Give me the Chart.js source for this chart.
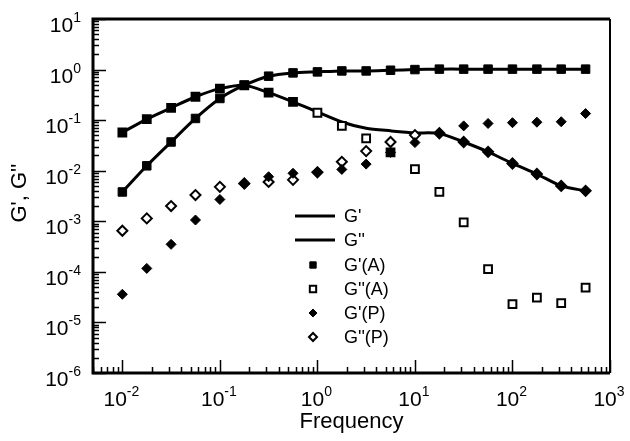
<!DOCTYPE html>
<html>
<head>
<meta charset="utf-8">
<script src="https://cdn.jsdelivr.net/npm/chart.js@4.4.0/dist/chart.umd.min.js"></script>
<style>
  html, body { margin: 0; padding: 0; background: #fff; }
  #wrap { width: 630px; height: 441px; }
</style>
</head>
<body>
<div id="wrap"><canvas id="modChart"></canvas></div>
<script>
// frequency points (1/4 decade steps)
const freq = [0.01, 0.0178, 0.0316, 0.0562, 0.1, 0.178, 0.316, 0.562, 1, 1.78,
  3.16, 5.62, 10, 17.8, 31.6, 56.2, 100, 178, 316, 562];

// solid curves
const gPrimeLine = [0.0038, 0.0125, 0.037, 0.108, 0.268, 0.49, 0.74, 0.86, 0.9, 0.94,
  0.94, 0.97, 1.0, 1.02, 1.02, 1.02, 1.02, 1.02, 1.02, 1.02];
const gDoubleLine = [0.057, 0.105, 0.175, 0.29, 0.42, 0.49, 0.35, 0.23, 0.145, 0.092,
  0.069, 0.0615, 0.056, 0.0546, 0.037, 0.0236, 0.0139, 0.0086, 0.005, 0.004];

// symbols
const gPrimeA = [0.0038, 0.0125, 0.037, 0.108, 0.268, 0.49, 0.74, 0.86, 0.9, 0.94,
  0.94, 0.97, 1.0, 1.02, 1.02, 1.02, 1.02, 1.02, 1.02, 1.02];
const gDoubleA = [0.057, 0.105, 0.175, 0.29, 0.42, 0.49, 0.35, 0.23, 0.14, 0.077,
  0.0435, 0.023, 0.0108, 0.0038, 0.00095, 0.000113, 0.000023, 0.000031, 0.000024, 0.000049];
const gPrimeP = [0.000036, 0.000117, 0.00035, 0.00106, 0.0027, 0.0054, 0.0076, 0.0089, 0.0095, 0.0106,
  0.0135, 0.023, 0.036, 0.055, 0.077, 0.086, 0.089, 0.091, 0.093, 0.135];
const gDoubleP = [0.00065, 0.00114, 0.002, 0.0033, 0.0048, 0.0056, 0.006, 0.0066, 0.0093, 0.015,
  0.0244, 0.037, 0.0506, 0.055, 0.037, 0.0236, 0.0139, 0.0086, 0.005, 0.004];

const yTicks = [-6, -5, -4, -3, -2, -1, 0, 1];
const xTicks = [-2, -1, 0, 1, 2, 3];

const FONT = '"Liberation Sans", Arial, Helvetica, sans-serif';

function pts(vals) {
  return freq.map((f, i) => ({ x: f, y: vals[i] }));
}

// some G''(A) squares print solid in the original (overlaps)
const gDoubleAFill = gDoubleA.map((v, i) => (i < 8 || i === 11) ? '#000' : '#fff');
const gDoublePFill = gDoubleP.map((v, i) => i >= 13 ? '#000' : '#fff');

const frame = {
  id: 'frame',
  afterDatasetsDraw(chart) {
    const { ctx, chartArea: a, scales } = chart;
    const xs = scales.x, ys = scales.y;
    ctx.save();
    ctx.strokeStyle = '#000';
    // ticks
    ctx.lineWidth = 1.5;
    ctx.beginPath();
    for (let k = -6; k <= 1; k++) {
      for (let m = 1; m <= 9; m++) {
        const v = m * Math.pow(10, k);
        if (v > 10.0001) continue;
        const py = Math.round(ys.getPixelForValue(v)) + 0.5;
        ctx.moveTo(a.left, py);
        ctx.lineTo(a.left + (m === 1 ? 13 : 6), py);
      }
    }
    for (let k = -3; k <= 3; k++) {
      for (let m = 1; m <= 9; m++) {
        const v = m * Math.pow(10, k);
        if (v < 0.005 || v > 1000.001) continue;
        const px = Math.round(xs.getPixelForValue(v)) + 0.5;
        ctx.moveTo(px, a.bottom);
        ctx.lineTo(px, a.bottom - (m === 1 ? 13 : 6));
      }
    }
    ctx.stroke();
    // box
    ctx.lineWidth = 3;
    ctx.beginPath();
    ctx.moveTo(a.right, a.top);
    ctx.lineTo(a.left, a.top);
    ctx.lineTo(a.left, a.bottom);
    ctx.lineTo(a.right, a.bottom);
    ctx.stroke();
    ctx.lineWidth = 2;
    ctx.beginPath();
    ctx.moveTo(a.right, a.top);
    ctx.lineTo(a.right, a.bottom);
    ctx.stroke();
    ctx.restore();
  },
  afterDraw(chart) {
    const { ctx, chartArea: a, scales } = chart;
    const xs = scales.x, ys = scales.y;
    ctx.save();
    ctx.fillStyle = '#000';
    ctx.textBaseline = 'alphabetic';

    const big = '21px ' + FONT, small = '14px ' + FONT;
    function powLabel(exp, x, y, align) {
      ctx.font = big;
      const wb = ctx.measureText('10').width;
      ctx.font = small;
      const es = String(exp);
      const we = ctx.measureText(es).width;
      let x0 = align === 'right' ? x - wb - we : x - (wb + we) / 2;
      ctx.textAlign = 'left';
      ctx.font = big;
      ctx.fillText('10', x0, y);
      ctx.font = small;
      ctx.fillText(es, x0 + wb, y - 10);
    }
    yTicks.forEach(k => {
      powLabel(k, 81, ys.getPixelForValue(Math.pow(10, k)) + 13, 'right');
    });
    xTicks.forEach(k => {
      powLabel(k, xs.getPixelForValue(Math.pow(10, k)) - 1, 406, 'center');
    });

    // axis titles
    ctx.font = '22px ' + FONT;
    ctx.textAlign = 'center';
    ctx.fillText('Frequency', (a.left + a.right) / 2, 428);
    ctx.save();
    ctx.translate(26, 193);
    ctx.rotate(-Math.PI / 2);
    ctx.fillText("G', G''", 0, 0);
    ctx.restore();

    // legend in the plot
    const rowY = [216, 240, 265, 289, 313, 337];
    ctx.font = '18px ' + FONT;
    ctx.textAlign = 'left';
    ctx.textBaseline = 'middle';
    chart.data.datasets.forEach((ds, i) => {
      const y = rowY[i];
      if (ds.showLine) {
        ctx.lineWidth = 3;
        ctx.strokeStyle = '#000';
        ctx.beginPath();
        ctx.moveTo(295, y);
        ctx.lineTo(335, y);
        ctx.stroke();
      } else {
        ctx.lineWidth = ds.borderWidth;
        ctx.strokeStyle = '#000';
        ctx.fillStyle = ds.legendFill;
        Chart.helpers.drawPoint(ctx, {
          pointStyle: ds.pointStyle, radius: ds.legendRadius, borderWidth: ds.borderWidth
        }, 313, y);
        ctx.fillStyle = '#000';
      }
      ctx.fillText(ds.label, 344, y + 1);
    });
    ctx.restore();
  }
};

const ctx = document.getElementById('modChart');
new Chart(ctx, {
  type: 'scatter',
  data: {
    datasets: [
      {
        label: "G'", data: pts(gPrimeLine), showLine: true,
        borderColor: '#000', borderWidth: 3, pointRadius: 0, tension: 0.25, order: 10
      },
      {
        label: "G''", data: pts(gDoubleLine), showLine: true,
        borderColor: '#000', borderWidth: 3, pointRadius: 0, tension: 0.25, order: 10
      },
      {
        label: "G'(A)", data: pts(gPrimeA), pointStyle: 'rect', pointRadius: 6,
        backgroundColor: '#000', borderColor: '#000', borderWidth: 1,
        legendFill: '#000', legendRadius: 4.5, order: 1
      },
      {
        label: "G''(A)", data: pts(gDoubleA), pointStyle: 'rect', pointRadius: 5.5,
        pointBackgroundColor: gDoubleAFill, borderColor: '#000', borderWidth: 2,
        legendFill: '#fff', legendRadius: 4.5, order: 2
      },
      {
        label: "G'(P)", data: pts(gPrimeP), pointStyle: 'rectRot', pointRadius: 5,
        backgroundColor: '#000', borderColor: '#000', borderWidth: 1,
        legendFill: '#000', legendRadius: 4, order: 3
      },
      {
        label: "G''(P)", data: pts(gDoubleP), pointStyle: 'rectRot', pointRadius: 5,
        pointBackgroundColor: gDoublePFill, borderColor: '#000', borderWidth: 2,
        legendFill: '#fff', legendRadius: 4, order: 4
      }
    ]
  },
  options: {
    responsive: true,
    maintainAspectRatio: false,
    animation: false,
    layout: { padding: { left: 93, right: 20, top: 19, bottom: 68 } },
    plugins: {
      legend: { display: false },
      tooltip: { enabled: false }
    },
    scales: {
      x: { type: 'logarithmic', min: 0.005, max: 1000, display: false },
      y: { type: 'logarithmic', min: 1e-6, max: 10, display: false }
    }
  },
  plugins: [frame]
});
</script>
</body>
</html>
